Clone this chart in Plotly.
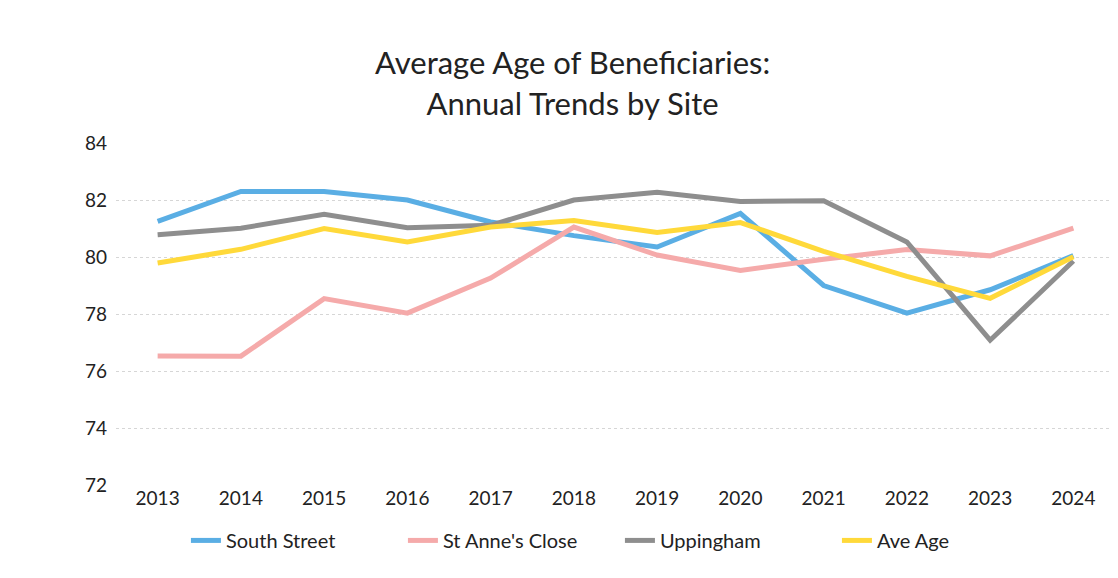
import plotly.graph_objects as go

years = ["2013", "2014", "2015", "2016", "2017", "2018",
         "2019", "2020", "2021", "2022", "2023", "2024"]

south_street = [81.25, 82.3, 82.3, 82.0, 81.23, 80.75, 80.35, 81.53, 79.0, 78.03, 78.85, 80.05]
st_annes_close = [76.53, 76.52, 78.54, 78.03, 79.26, 81.05, 80.07, 79.53, 79.92, 80.26, 80.04, 81.01]
uppingham = [80.78, 81.01, 81.5, 81.03, 81.11, 82.0, 82.27, 81.95, 81.97, 80.53, 77.08, 79.86]
ave_age = [79.79, 80.27, 81.0, 80.53, 81.05, 81.28, 80.86, 81.21, 80.2, 79.32, 78.55, 80.01]

series = [
    ("South Street", south_street, "#5AAEE4"),
    ("St Anne's Close", st_annes_close, "#F5AAAA"),
    ("Uppingham", uppingham, "#8E8E8E"),
    ("Ave Age", ave_age, "#FFD93A"),
]

fig = go.Figure()
for name, vals, col in series:
    fig.add_trace(go.Scatter(x=years, y=vals, name=name, mode="lines",
                             line=dict(color=col, width=5)))

fig.update_layout(
    width=1118, height=578,
    paper_bgcolor="white", plot_bgcolor="white",
    font=dict(family="Lato, Carlito, Calibri, sans-serif", size=19, color="#222222"),
    title=dict(text="Average Age of Beneficiaries:<br>Annual Trends by Site",
               x=0.505, xanchor="center", y=0.885, yanchor="top",
               font=dict(size=31, color="#222222")),
    margin=dict(l=108, r=11, t=135, b=101),
    legend=dict(orientation="h", x=0.07, xanchor="left", y=-0.105, yanchor="top",
                font=dict(size=20), entrywidth=172, entrywidthmode="pixels"),
    showlegend=True,
)
fig.update_xaxes(type="category", range=[-0.5, 11.5], showgrid=False,
                 showline=False, ticks="", tickfont=dict(size=19))
fig.update_yaxes(range=[72, 84], dtick=2, showgrid=True, gridcolor="#D6D6D6",
                 griddash="dot", gridwidth=1, zeroline=False, showline=False,
                 ticks="", tickfont=dict(size=19), ticklabelstandoff=8)

fig.write_html("out.html")
